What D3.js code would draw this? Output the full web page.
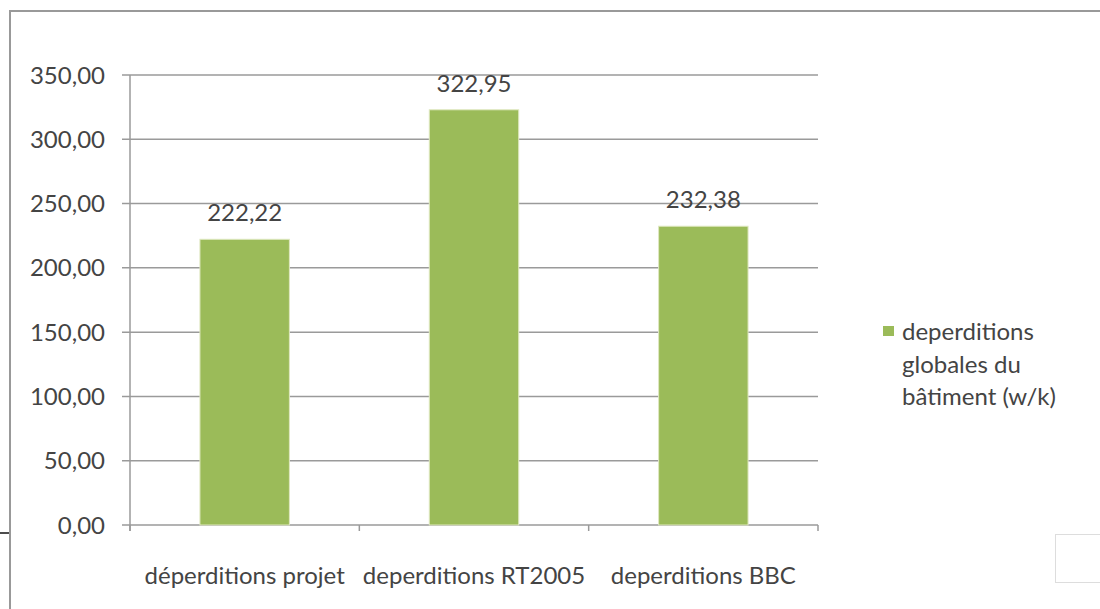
<!DOCTYPE html>
<html>
<head>
<meta charset="utf-8">
<script src="https://cdn.jsdelivr.net/npm/d3@7.9.0/dist/d3.min.js"></script>
<style>
  body { margin: 0; background: #fff; }
  svg { display: block; font-family: Lato, "Open Sans", sans-serif; }
</style>
</head>
<body>
<svg id="chart" width="1100" height="609"></svg>
<script>
const categories = ['déperditions projet', 'deperditions RT2005', 'deperditions BBC'];
const values = [222.22, 322.95, 232.38];
const yTicks = [0, 50, 100, 150, 200, 250, 300, 350];
const seriesName = ['deperditions', 'globales du', 'bâtiment (w/k)'];

const svg = d3.select('#chart');
const margin = { left: 130, right: 818, top: 75, bottom: 525 };
const textColor = '#444';
const gridColor = '#9a9a9a';
const barColor = '#9bbb59';

const fmt = (v) => v.toFixed(2).replace('.', ',');

// frame of the original picture
svg.append('path')
    .attr('d', 'M10,609 V11 H1100')
    .attr('fill', 'none')
    .attr('stroke', '#999')
    .attr('stroke-width', 2);
svg.append('line')
    .attr('x1', 0).attr('x2', 9).attr('y1', 533).attr('y2', 533)
    .attr('stroke', '#111').attr('stroke-width', 1.5);
svg.append('rect')
    .attr('x', 1055.5).attr('y', 534.5).attr('width', 50).attr('height', 48)
    .attr('fill', 'none').attr('stroke', '#ddd');

let x = d3.scaleBand()
    .domain(categories)
    .range([margin.left, margin.right])
    .paddingInner(0.61)
    .paddingOuter(0.305);

let y = d3.scaleLinear()
    .domain([0, 350])
    .range([margin.bottom, margin.top]);

// gridlines
svg.append('g')
    .selectAll('line')
    .data(yTicks)
    .join('line')
    .attr('x1', margin.left - 8)
    .attr('x2', margin.right)
    .attr('y1', (d) => y(d))
    .attr('y2', (d) => y(d))
    .attr('stroke', gridColor)
    .attr('stroke-width', 1.5);

// y axis line
svg.append('line')
    .attr('x1', margin.left).attr('x2', margin.left)
    .attr('y1', margin.top).attr('y2', margin.bottom + 6)
    .attr('stroke', gridColor).attr('stroke-width', 1.5);

// category separators
let bounds = [margin.left, ...categories.map((c) => x(c) + x.bandwidth() + x.step() * x.paddingInner() / 2)];
bounds[bounds.length - 1] = margin.right;
svg.append('g')
    .selectAll('line')
    .data(bounds)
    .join('line')
    .attr('x1', (d) => d).attr('x2', (d) => d)
    .attr('y1', margin.bottom).attr('y2', margin.bottom + 6)
    .attr('stroke', gridColor).attr('stroke-width', 1.5);

// y labels
svg.append('g')
    .selectAll('text')
    .data(yTicks)
    .join('text')
    .attr('x', 105)
    .attr('y', (d) => y(d))
    .attr('dy', '0.36em')
    .attr('text-anchor', 'end')
    .attr('fill', textColor)
    .attr('font-size', 24)
    .text((d) => fmt(d));

// bars
svg.append('g')
    .selectAll('rect')
    .data(values)
    .join('rect')
    .attr('x', (d, i) => x(categories[i]))
    .attr('y', (d) => y(d))
    .attr('width', x.bandwidth())
    .attr('height', (d) => y(0) - y(d))
    .attr('fill', barColor)
    .attr('stroke', '#dfe8c0')
    .attr('stroke-width', 1);

// value labels
svg.append('g')
    .selectAll('text')
    .data(values)
    .join('text')
    .attr('x', (d, i) => x(categories[i]) + x.bandwidth() / 2)
    .attr('y', (d) => y(d) - 18)
    .attr('text-anchor', 'middle')
    .attr('fill', textColor)
    .attr('font-size', 24)
    .text((d) => fmt(d));

// category labels
svg.append('g')
    .selectAll('text')
    .data(categories)
    .join('text')
    .attr('x', (d) => x(d) + x.bandwidth() / 2)
    .attr('y', 584)
    .attr('text-anchor', 'middle')
    .attr('fill', textColor)
    .attr('font-size', 24)
    .text((d) => d);

// legend
svg.append('rect')
    .attr('x', 883).attr('y', 326)
    .attr('width', 11).attr('height', 10)
    .attr('fill', barColor);

svg.append('g')
    .selectAll('text')
    .data(seriesName)
    .join('text')
    .attr('x', 902)
    .attr('y', (d, i) => 340 + i * 32.5)
    .attr('fill', textColor)
    .attr('font-size', 24)
    .text((d) => d);
</script>
</body>
</html>
